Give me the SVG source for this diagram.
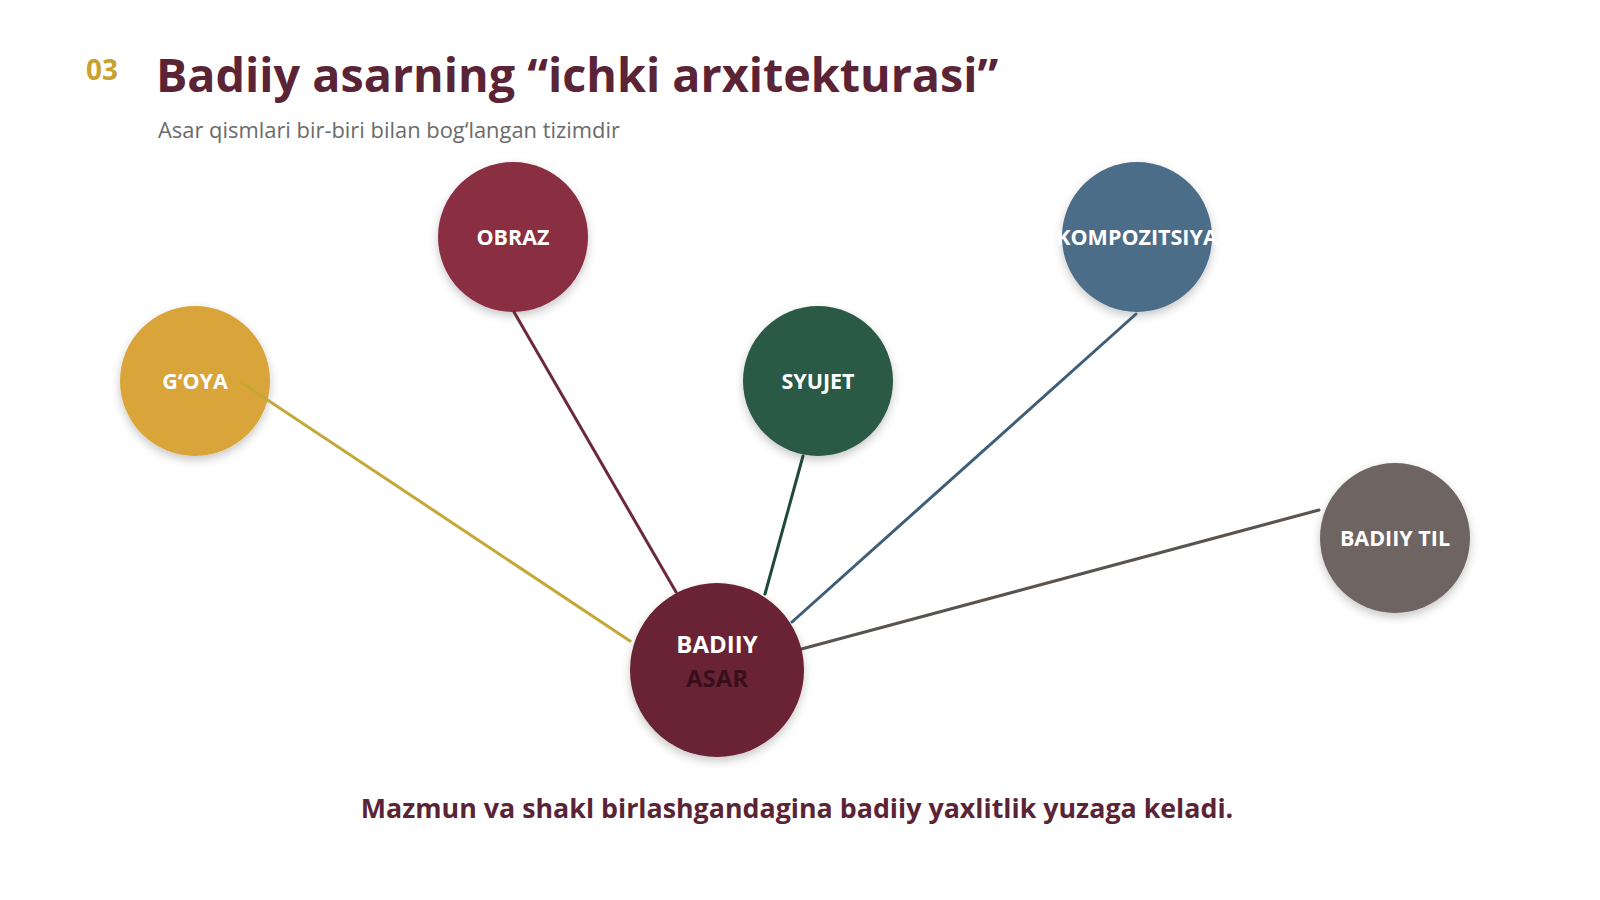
<svg xmlns="http://www.w3.org/2000/svg" width="1600" height="900" viewBox="0 0 1600 900">
<defs>
<filter id="sh" x="-30%" y="-30%" width="160%" height="160%">
<feDropShadow dx="0" dy="4" stdDeviation="5" flood-color="#000" flood-opacity="0.22"/>
</filter>
</defs>
<style>
.lbl{font-family:"Open Sans","Noto Sans",sans-serif;font-weight:700;font-size:21.5px;fill:#fff;text-anchor:middle}
.big{font-size:24px}
.edge{fill:none;stroke-width:3;stroke-linecap:round}
</style>
<rect width="1600" height="900" fill="#ffffff"/>
<text x="86" y="80" font-family="Open Sans, Noto Sans, sans-serif" font-weight="700" font-size="28" fill="#c9a32e">03</text>
<text x="156" y="92" font-family="Open Sans, Noto Sans, sans-serif" font-weight="700" font-size="46.7" fill="#5a2436">Badiiy asarning “ichki arxitekturasi”</text>
<text x="158" y="138" font-family="Open Sans, Noto Sans, sans-serif" font-size="21.9" fill="#6b6b6b">Asar qismlari bir-biri bilan bog‘langan tizimdir</text>
<g id="nodes-outer">
<g id="goya"><circle cx="195" cy="381" r="75" fill="#d9a53b" filter="url(#sh)"/><text class="lbl" x="195" y="389">G‘OYA</text></g>
<g id="obraz"><circle cx="513" cy="237" r="75" fill="#8a2d43" filter="url(#sh)"/><text class="lbl" x="513" y="245">OBRAZ</text></g>
<g id="syujet"><circle cx="818" cy="381" r="75" fill="#2a5a45" filter="url(#sh)"/><text class="lbl" x="818" y="389">SYUJET</text></g>
<g id="kompozitsiya"><circle cx="1137" cy="237" r="75" fill="#4b6d88" filter="url(#sh)"/><text class="lbl" x="1137" y="245">KOMPOZITSIYA</text></g>
<g id="badiiy-til"><circle cx="1395" cy="538" r="75" fill="#6e6562" filter="url(#sh)"/><text class="lbl" x="1395" y="546">BADIIY TIL</text></g>
</g>
<g id="connectors">
<line class="edge" x1="242" y1="383" x2="630" y2="641" stroke="#c2a83a"/>
<line class="edge" x1="514" y1="312" x2="676" y2="592" stroke="#6b2a3c"/>
<line class="edge" x1="803" y1="456" x2="765" y2="594" stroke="#1f4a3a"/>
<line class="edge" x1="1136" y1="314" x2="792" y2="622" stroke="#3f5f78"/>
<line class="edge" x1="1319" y1="510" x2="794" y2="651" stroke="#5a5450"/>
</g>
<g id="badiiy-asar">
<circle cx="717" cy="670" r="87" fill="#6a2034" filter="url(#sh)"/>
<text class="lbl big" x="717" y="653">BADIIY</text>
<text class="lbl big" x="717" y="687" style="fill:#3a0f1c">ASAR</text>
</g>
<text x="797" y="818" text-anchor="middle" font-family="Open Sans, Noto Sans, sans-serif" font-weight="700" font-size="26.8" fill="#5a2436">Mazmun va shakl birlashgandagina badiiy yaxlitlik yuzaga keladi.</text>
</svg>
